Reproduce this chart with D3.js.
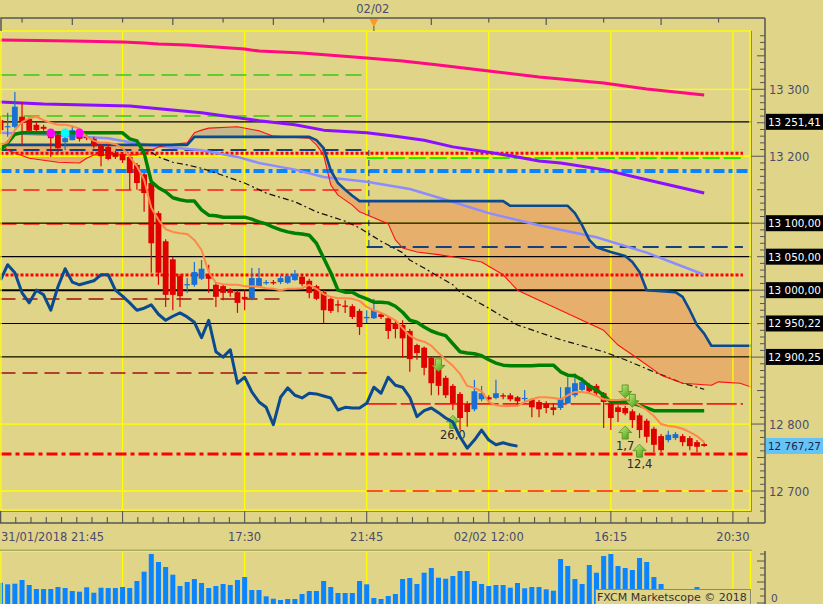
<!DOCTYPE html>
<html>
<head>
<meta charset="utf-8">
<title>Ichimoku 15m</title>
<script src="https://d3js.org/d3.v7.min.js"></script>
<style>
  body { margin: 0; background: #e0d488; }
  svg { display: block; font-family: "DejaVu Sans", Verdana, sans-serif; }
</style>
</head>
<body>
<div id="chart"></div>
<script>
// ---- candles, index 0 = 31/01/2018 21:45, 15 min each ----
var opens = [13254,13244,13244,13259,13256,13247,13244,13235,13232,13221,
  13224,13235,13229,13226,13217,13214,13205,13203,13199,13187,
  13173,13160,13115,13073,13046,13021,13008,13008,13017,13024,
  13008,13006,13000,12997,12990,12988,13006,13011,13012,13012,
  13011,13015,13020,13014,13006,12997,12987,12979,12977,12976,
  12969,12958,12958,12964,12958,12951,12948,12939,12918,12914,
  12899,12881,12869,12857,12845,12831,12822,12837,12840,12839,
  12843,12843,12840,12838,12837,12833,12831,12825,12824,12831,
  12843,12851,12858,12857,12846,12831,12825,12824,12819,12813,
  12805,12793,12782,12776,12779,12782,12779,12773,12770];
var highs = [13260,13265,13296,13281,13259,13251,13247,13238,13235,13232,
  13244,13239,13232,13229,13219,13221,13208,13206,13202,13190,
  13175,13163,13118,13076,13050,13024,13018,13042,13045,13038,
  13012,13009,13003,13000,13000,13033,13033,13015,13015,13021,
  13024,13030,13024,13017,13008,13000,12990,12985,12985,12979,
  12972,12970,12987,12967,12960,12955,12955,12942,12920,12916,
  12900,12884,12872,12860,12848,12834,12866,12857,12843,12866,
  12846,12846,12842,12851,12839,12836,12834,12831,12855,12870,
  12876,12870,12861,12860,12848,12834,12828,12827,12822,12816,
  12808,12796,12785,12790,12788,12785,12782,12776,12772];
var lows = [13233,13229,13242,13217,13235,13235,13238,13199,13206,13209,
  13224,13222,13224,13212,13185,13194,13196,13190,13150,13150,
  13117,13026,13008,12975,12970,12975,12996,13005,13015,12996,
  12975,12985,12990,12966,12970,12985,13005,13008,13008,13009,
  13009,13014,13006,12988,12985,12951,12966,12967,12966,12957,
  12933,12951,12957,12957,12927,12928,12899,12878,12896,12873,
  12843,12843,12839,12821,12791,12796,12819,12834,12834,12837,
  12837,12834,12828,12833,12810,12810,12816,12813,12821,12830,
  12840,12849,12846,12843,12794,12791,12803,12813,12794,12779,
  12772,12758,12758,12773,12776,12767,12761,12758,12766];
var closes = [13239,13245,13274,13250,13238,13239,13241,13227,13212,13227,
  13239,13226,13227,13215,13200,13196,13199,13194,13175,13160,
  13145,13070,13026,12993,12993,12991,13009,13027,13032,13017,
  12990,12996,12996,12981,12987,13018,13018,13012,13011,13018,
  13021,13024,13009,12996,12987,12970,12969,12977,12975,12960,
  12945,12960,12970,12960,12939,12942,12928,12897,12906,12884,
  12861,12857,12843,12831,12809,12818,12849,12846,12837,12846,
  12841,12837,12834,12839,12825,12822,12824,12821,12839,12855,
  12861,12863,12849,12846,12833,12809,12818,12816,12806,12791,
  12781,12769,12761,12784,12785,12773,12767,12766,12767.27];
var volumes = [213,197,203,240,190,150,150,150,170,160,
  130,123,167,113,163,160,160,170,160,230,
  323,500,420,370,293,180,220,250,210,160,
  180,200,190,240,270,140,140,77,53,40,
  50,50,100,130,130,230,170,110,110,110,
  230,197,60,50,80,100,250,260,200,313,
  360,263,253,280,330,330,230,200,180,190,
  190,163,210,157,170,170,147,133,450,380,
  250,200,390,313,480,500,380,360,340,460,
  420,270,200,120,100,90,80,170,60];

// ---- ichimoku ----
var tenkan = [13217,13221,13239,13251,13257,13259,13254,13250,13247,13247,
  13245,13241,13229,13223,13220,13220,13218,13212,13199,13185,
  13165,13123,13105,13091,13087,13085,13084,13075,13060,13027,
  13011,13009,13008,13008,13006,13006,13005,13003,13002,13000,
  13002,13002,13003,13008,13002,12994,12990,12988,12988,12987,
  12984,12975,12970,12966,12961,12955,12943,12932,12926,12923,
  12917,12906,12896,12887,12875,12857,12854,12849,12833,12828,
  12827,12827,12827,12833,12837,12840,12840,12839,12837,12843,
  12848,12848,12846,12842,12837,12836,12836,12837,12834,12828,
  12821,12812,12800,12797,12796,12793,12788,12782,12773];
var kijun = [13209,13220,13233,13235,13235,13235,13235,13235,13235,13235,
  13235,13235,13235,13235,13235,13235,13235,13235,13226,13223,
  13205,13162,13153,13147,13138,13135,13133,13133,13120,13112,
  13111,13109,13109,13109,13109,13106,13102,13099,13094,13090,
  13087,13085,13084,13082,13070,13048,13026,13000,12997,12997,
  12991,12987,12982,12982,12981,12976,12967,12955,12952,12945,
  12939,12935,12932,12920,12908,12906,12905,12902,12896,12891,
  12888,12887,12887,12887,12887,12888,12888,12888,12878,12873,
  12872,12866,12857,12851,12843,12833,12833,12833,12831,12828,
  12824,12820,12820,12820,12820,12820,12820,12820,12820];
var chikou = [13015,13038,13026,12996,12981,13000,12993,12970,13005,13032,
  13012,13008,13011,13014,13023,13023,13000,12991,12981,12970,
  12973,12978,12964,12955,12961,12966,12960,12952,12929,12955,
  12908,12900,12911,12861,12870,12848,12833,12825,12799,12840,
  12854,12843,12839,12846,12845,12842,12839,12821,12825,12824,
  12824,12831,12855,12846,12870,12858,12855,12840,12811,12820,
  12824,12817,12809,12803,12781,12764,12776,12791,12776,12769,
  12772,12769,12767];
var spanA = [[0,13220],[1,13209],[4,13197],[8,13191],[11,13190],[12,13197],[13,13202],
  [19,13202],[21,13209],[22,13214],[24,13218],[26,13220],[27,13235],[28,13239],[29,13242],
  [33,13244],[36,13238],[38,13230],[43,13227],[44,13217],[45,13202],[46,13157],[47,13142],
  [49,13127],[50,13117],[52,13108],[54,13099],[55,13075],[56,13063],[58,13057],[61,13053],
  [64,13048],[67,13042],[70,13023],[72,13000],[75,12985],[78,12970],[81,12955],[84,12940],
  [86,12918],[89,12896],[92,12873],[95,12861],[99,12858],[100,12863],[103,12861],[104.6,12855]];
var spanB = [[0,13217],[26,13217],[27,13229],[43,13229],[44,13224],[45,13212],[46,13179],
  [47,13160],[48,13150],[49,13141],[50,13133],[70,13133],[71,13126],[79,13126],[80,13115],
  [81,13097],[82,13075],[83,13064],[85,13057],[87,13051],[88,13042],[89,13027],[90,13000],
  [94,12997],[95,12990],[96,12970],[97,12948],[98,12935],[99,12917],[104.6,12917]];

// ---- moving averages ----
var maSlow = [[0,13373.6],[10,13372.1],[17,13370.6],[20,13369.1],[22,13367.6],[26,13366.1],
  [28,13364.6],[30,13363.1],[32,13361.6],[34,13360.1],[36,13357.1],[42,13354.1],[51,13346.7],
  [56,13342.2],[61,13336.2],[68,13327.3],[75,13318.3],[84,13309.4],[90,13300.4],[98,13291.4]];
var maMid = [[0,13281],[6,13278],[18,13275],[28,13265],[36,13253],[41,13247],[45,13239],
  [51,13235],[55,13230],[59,13224],[63,13214],[68,13206],[72,13199],[75,13193],[78,13190],
  [84,13180],[90,13165],[98,13145]];
var maFast = [[0,13235],[6,13232],[11,13229],[15,13227],[18,13221],[22,13215],[28,13209],
  [33,13199],[36,13190],[41,13180],[45,13169],[51,13162],[57,13151],[62,13135],[68,13115],
  [75,13097],[83,13079],[90,13056],[98,13023]];
var maDash = [[21,13206],[22,13199],[24,13191],[26,13187],[28,13182],[30,13175],[34,13160],
  [37,13145],[41,13132],[44,13117],[48,13103],[50,13093],[53,13073],[56,13056],[57,13045],
  [59,13033],[63,13008],[64,12997],[66,12985],[68,12973],[70,12960],[72,12948],[78,12926],
  [84,12908],[87,12896],[91,12878],[95,12861],[98,12852]];

// ---- horizontal levels ----
var levelPrice = [13321.4,13260.1,13209.2,13149.6,13098.8,12986.8,12876.3,
  13197.4,13064.5,12830.0,12700.0, 13204.4,13178.0,13022.6,12755.3];
var levelFrom = [0,0,0,0,0,0,0, 51,51,51,51, 0,0,0,0];
var levelTo = [51,51,51,51,51,39,51, 103.4,103.4,103.4,103.4, 103.4,104.6,103.4,104.6];
var levelKind = ["green","green","navy","red","red","darkred","darkred",
  "lime","navy","redlong","red", "reddot","bluedot","reddot","reddashdot"];
var levelShiftIdx = 51.3;
var boxLevels = [13251.41, 13100.00, 13050.00, 13000.00, 12950.22, 12900.25];
var lastPrice = 12767.27;

// ---- markers and signals ----
var dotIdx = [7, 9, 11], dotPrice = [13235, 13235, 13235], dotKind = ["m", "c", "m"];
var upIdx = [63, 87, 89], upPrice = [12813, 12797, 12770], upText = ["26,0", "1,7", "12,4"];
var downIdx = [61, 87, 88], downPrice = [12878, 12839, 12825];

// ---- axes ----
var priceGrid = [12700, 12800, 12900, 13000, 13100, 13200, 13300];
var gridIdx = [17, 34, 51, 68, 85, 102];
var xLabelIdx = [0, 34, 51, 68, 85, 102];
var xLabelText = ["31/01/2018 21:45", "17:30", "21:45", "02/02 12:00", "16:15", "20:30"];
var topTickIdx = [3, 10, 17, 24, 31, 38, 45, 60, 68, 76, 84, 92, 100];
var dayMarkIdx = 52, dayMarkText = "02/02";

// ================= drawing =================
var W = 823, H = 604;
var P = {l: 0, r: 751, t: 31, b: 511};
var V = {t: 551, b: 604};
var axisX = 765;
var bg = "#e0d488", txt = "#4b4b6b";

var x = d3.scaleLinear().domain([0, 102]).range([0.5, 732.9]);
var y = d3.scaleLinear().domain([12700, 13300]).range([491, 89.3]);
var yv = d3.scaleLinear().domain([0, 530]).range([V.b, V.t]);

var loc = d3.formatLocale({decimal: ",", thousands: " ", grouping: [3], currency: ["", ""]});
var fmt0 = loc.format(",.0f"), fmt2 = loc.format(",.2f");

var svg = d3.select("#chart").append("svg").attr("width", W).attr("height", H);
var defs = svg.append("defs");
defs.append("clipPath").attr("id", "clipP").append("rect")
  .attr("x", P.l).attr("y", P.t).attr("width", P.r - P.l).attr("height", P.b - P.t);
defs.append("clipPath").attr("id", "clipV").append("rect")
  .attr("x", P.l).attr("y", V.t).attr("width", P.r - P.l).attr("height", V.b - V.t);

var grad = defs.append("linearGradient").attr("id", "arrowGrad")
  .attr("x1", "0").attr("y1", "0").attr("x2", "1").attr("y2", "1");
grad.append("stop").attr("offset", "0").attr("stop-color", "#c8f27c");
grad.append("stop").attr("offset", "1").attr("stop-color", "#3f9810");

svg.append("rect").attr("width", W).attr("height", H).attr("fill", bg);

var pxLine = d3.line().x(function(d){ return x(d[0]); }).y(function(d){ return y(d[1]); });
var idxLine = d3.line().x(function(d, i){ return x(i); }).y(function(d){ return y(d); });

// cloud: two colours depending on which span is on top
var bFirst = spanB[0], bLast = spanB[spanB.length - 1];
var cloudPath = pxLine(spanA.concat(spanB.slice().reverse())) + "Z";
defs.append("clipPath").attr("id", "cloudBelow").append("path")
  .attr("d", pxLine(spanB) + "L" + x(bLast[0]) + "," + P.b + "L" + x(bFirst[0]) + "," + P.b + "Z");
defs.append("clipPath").attr("id", "cloudAbove").append("path")
  .attr("d", pxLine(spanB) + "L" + x(bLast[0]) + "," + P.t + "L" + x(bFirst[0]) + "," + P.t + "Z");

var pane = svg.append("g").attr("clip-path", "url(#clipP)");
pane.append("path").attr("d", cloudPath).attr("fill", "#e6b06c").attr("clip-path", "url(#cloudBelow)");
pane.append("path").attr("d", cloudPath).attr("fill", "#c4b98c").attr("clip-path", "url(#cloudAbove)");

// grid
pane.selectAll(".gy").data(priceGrid).join("line")
  .attr("x1", P.l).attr("x2", P.r).attr("y1", function(d){ return y(d); }).attr("y2", function(d){ return y(d); })
  .attr("stroke", "#ffff00").attr("stroke-width", 1.3);
pane.selectAll(".gx").data(gridIdx).join("line")
  .attr("x1", function(d){ return x(d); }).attr("x2", function(d){ return x(d); })
  .attr("y1", P.t).attr("y2", P.b).attr("stroke", "#ffff00").attr("stroke-width", 1.3);

// levels
var levelStyle = {
  green:      {c: "#33cc11", w: 1.5, d: "16,7"},
  lime:       {c: "#33e000", w: 2,   d: "17,4"},
  navy:       {c: "#17407e", w: 2,   d: "16,7"},
  red:        {c: "#ff1a1a", w: 1.5, d: "16,7"},
  darkred:    {c: "#a01010", w: 1.5, d: "15,7"},
  redlong:    {c: "#ff1a1a", w: 1.8, d: "30,4"},
  reddot:     {c: "#ff0000", w: 3,   d: "3,2"},
  bluedot:    {c: "#0a84ff", w: 4,   d: "11,4,4,4"},
  reddashdot: {c: "#ff0000", w: 3,   d: "11,4,4,4"}
};
pane.selectAll(".lvl").data(levelPrice).join("line")
  .attr("x1", function(d, i){ return x(levelFrom[i]); })
  .attr("x2", function(d, i){ return x(levelTo[i]); })
  .attr("y1", function(d){ return y(d); }).attr("y2", function(d){ return y(d); })
  .attr("stroke", function(d, i){ return levelStyle[levelKind[i]].c; })
  .attr("stroke-width", function(d, i){ return levelStyle[levelKind[i]].w; })
  .attr("stroke-dasharray", function(d, i){ return levelStyle[levelKind[i]].d; });
pane.append("line")
  .attr("x1", x(levelShiftIdx)).attr("x2", x(levelShiftIdx))
  .attr("y1", y(levelPrice[2])).attr("y2", y(levelPrice[8]))
  .attr("stroke", "#17407e").attr("stroke-width", 1).attr("stroke-dasharray", "6,4");

pane.selectAll(".blk").data(boxLevels).join("line")
  .attr("x1", P.l).attr("x2", P.r)
  .attr("y1", function(d){ return y(d); }).attr("y2", function(d){ return y(d); })
  .attr("stroke", "#000").attr("stroke-width", function(d){ return d === 13000 ? 2 : 1.2; });

// moving averages
function drawLine(data, color, width, dash) {
  var p = pane.append("path").attr("d", pxLine(data)).attr("fill", "none")
    .attr("stroke", color).attr("stroke-width", width).attr("stroke-linejoin", "round");
  if (dash) p.attr("stroke-dasharray", dash);
  return p;
}
drawLine(maSlow, "#ff0a80", 3);
drawLine(maMid, "#8a10ff", 3);
drawLine(maFast, "#8c8cff", 2.5);
drawLine(maDash, "#111", 1.2, "6,3,2,3");
drawLine(spanA, "#ff1010", 1.1);
drawLine(spanB, "#0b4a8f", 2.6);

// candles
var cw = 5.8;
var candles = pane.selectAll(".c").data(closes).join("g")
  .attr("fill", function(d, i){ return d >= opens[i] ? "#1a6fd4" : "#e00000"; })
  .attr("stroke", function(d, i){ return d >= opens[i] ? "#1a6fd4" : "#e00000"; });
candles.append("line")
  .attr("x1", function(d, i){ return x(i); }).attr("x2", function(d, i){ return x(i); })
  .attr("y1", function(d, i){ return y(highs[i]); }).attr("y2", function(d, i){ return y(lows[i]); })
  .attr("stroke-width", 1.2);
candles.append("rect")
  .attr("x", function(d, i){ return x(i) - cw / 2; }).attr("width", cw)
  .attr("y", function(d, i){ return y(Math.max(d, opens[i])); })
  .attr("height", function(d, i){ return Math.max(1.2, Math.abs(y(d) - y(opens[i]))); })
  .attr("stroke", "none");

// kijun / tenkan
pane.append("path").attr("d", idxLine(kijun)).attr("fill", "none")
  .attr("stroke", "#008000").attr("stroke-width", 3.5).attr("stroke-linejoin", "round");
pane.append("path").attr("d", idxLine(tenkan)).attr("fill", "none")
  .attr("stroke", "#ff8848").attr("stroke-width", 2).attr("stroke-linejoin", "round");

// markers
pane.selectAll(".dot").data(dotIdx).join("circle")
  .attr("cx", function(d){ return x(d); }).attr("cy", function(d, i){ return y(dotPrice[i]); })
  .attr("r", 4.4).attr("fill", function(d, i){ return dotKind[i] === "m" ? "#ff00ff" : "#00ffff"; });

// arrow glyph
function arrowPath(cx, tipY, dir) {
  var pts = [[0,0],[6.5,6.5],[3,6.5],[3,13],[-3,13],[-3,6.5],[-6.5,6.5]];
  return "M" + pts.map(function(p){ return (cx + p[0]) + "," + (tipY + dir * p[1]); }).join("L") + "Z";
}
pane.selectAll(".up").data(upIdx).join("path")
  .attr("d", function(d, i){ return arrowPath(x(d), y(upPrice[i]), 1); })
  .attr("fill", "url(#arrowGrad)").attr("stroke", "#4e8e18").attr("stroke-width", 0.8);
pane.selectAll(".dn").data(downIdx).join("path")
  .attr("d", function(d, i){ return arrowPath(x(d), y(downPrice[i]), -1); })
  .attr("fill", "url(#arrowGrad)").attr("stroke", "#4e8e18").attr("stroke-width", 0.8);
pane.selectAll(".upt").data(upIdx).join("text")
  .attr("x", function(d){ return x(d); }).attr("y", function(d, i){ return y(upPrice[i]) + 24; })
  .attr("text-anchor", "middle").attr("font-size", 11.5).attr("fill", "#2a2a2a")
  .text(function(d, i){ return upText[i]; });

// chikou
pane.append("path").attr("d", idxLine(chikou)).attr("fill", "none")
  .attr("stroke", "#0b4a8f").attr("stroke-width", 3).attr("stroke-linejoin", "round");

// frame of the price pane
svg.append("rect").attr("x", 1).attr("y", P.t).attr("width", P.r - 2).attr("height", P.b - P.t - 1)
  .attr("fill", "none").attr("stroke", "#ffff00").attr("stroke-width", 1.3);
svg.append("path").attr("d", "M" + (P.r + 0.5) + "," + P.t + "V" + (P.b + 0.5) + "H0")
  .attr("fill", "none").attr("stroke", "#8a8a70").attr("stroke-width", 1);

// right price axis
svg.append("line").attr("x1", axisX).attr("x2", axisX).attr("y1", 18).attr("y2", 523)
  .attr("stroke", "#555").attr("stroke-width", 1.5);
var rTicks = d3.range(12670, 13390, 10);
svg.selectAll(".rt").data(rTicks).join("line")
  .attr("x1", function(d){ return d % 100 === 0 ? P.r : (d % 50 === 0 ? axisX - 8 : axisX - 5); })
  .attr("x2", axisX)
  .attr("y1", function(d){ return y(d); }).attr("y2", function(d){ return y(d); })
  .attr("stroke", "#555").attr("stroke-width", 1);

// plain grid labels only where no boxed level label sits on top of them
var freeGrid = priceGrid.filter(function(v){
  return boxLevels.every(function(b){ return Math.abs(y(b) - y(v)) > 14; });
});
svg.selectAll(".rl").data(freeGrid).join("text")
  .attr("x", 769).attr("y", function(d){ return y(d) + 4.5; })
  .attr("font-size", 11.5).attr("fill", txt).text(function(d){ return fmt0(d); });
var boxes = svg.selectAll(".bx").data(boxLevels).join("g");
boxes.append("rect").attr("x", 766).attr("y", function(d){ return y(d) - 8; })
  .attr("width", W - 766).attr("height", 16).attr("fill", "#000");
boxes.append("text").attr("x", 768).attr("y", function(d){ return y(d) + 4; })
  .attr("font-size", 10.4).attr("fill", "#fff").text(function(d){ return fmt2(d); });
svg.append("rect").attr("x", 766).attr("y", y(lastPrice) - 8).attr("width", W - 766).attr("height", 16)
  .attr("fill", "#62c4f7");
svg.append("text").attr("x", 768).attr("y", y(lastPrice) + 4)
  .attr("font-size", 10.4).attr("fill", "#222244").text(fmt2(lastPrice));

// top time axis
svg.append("path").attr("d", "M1,31V18H" + axisX).attr("fill", "none")
  .attr("stroke", "#555").attr("stroke-width", 1.5);
svg.selectAll(".tt").data(topTickIdx).join("line")
  .attr("x1", function(d){ return x(d); }).attr("x2", function(d){ return x(d); })
  .attr("y1", 18).attr("y2", function(d, i){ return i % 2 ? 25 : 22.5; })
  .attr("stroke", "#555").attr("stroke-width", 1.2);
svg.append("path")
  .attr("d", "M" + (x(dayMarkIdx) - 4.5) + ",19L" + (x(dayMarkIdx) + 4.5) + ",19L" + x(dayMarkIdx) + ",27Z")
  .attr("fill", "#ff9a1a");
svg.append("line").attr("x1", x(dayMarkIdx)).attr("x2", x(dayMarkIdx)).attr("y1", 26).attr("y2", 31)
  .attr("stroke", "#555");
svg.append("text").attr("x", x(dayMarkIdx) - 1).attr("y", 13).attr("text-anchor", "middle")
  .attr("font-size", 11.5).attr("fill", txt).text(dayMarkText);

// bottom time axis
svg.append("path").attr("d", "M0.5," + P.b + "V523H" + axisX).attr("fill", "none")
  .attr("stroke", "#555").attr("stroke-width", 1.5);
var minorTicks = d3.range(0, 106, 17 / 8);
svg.selectAll(".bt").data(minorTicks).join("line")
  .attr("x1", function(d){ return x(d); }).attr("x2", function(d){ return x(d); })
  .attr("y1", function(d, i){ return i % 8 === 0 ? P.b : 517; }).attr("y2", 523)
  .attr("stroke", "#555").attr("stroke-width", 1.1);
svg.selectAll(".bl").data(xLabelIdx).join("text")
  .attr("x", function(d, i){ return i === 0 ? 1 : x(d); })
  .attr("y", 541)
  .attr("text-anchor", function(d, i){ return i === 0 ? "start" : "middle"; })
  .attr("font-size", 11.5).attr("fill", txt)
  .text(function(d, i){ return xLabelText[i]; });

// volume pane
var vol = svg.append("g").attr("clip-path", "url(#clipV)");
vol.selectAll(".vg").data(gridIdx).join("line")
  .attr("x1", function(d){ return x(d); }).attr("x2", function(d){ return x(d); })
  .attr("y1", V.t).attr("y2", V.b).attr("stroke", "#ffff00").attr("stroke-width", 1.3);
vol.selectAll(".vb").data(volumes).join("rect")
  .attr("x", function(d, i){ return x(i) - 2.5; }).attr("width", 5)
  .attr("y", function(d){ return yv(d); }).attr("height", function(d){ return yv(0) - yv(d); })
  .attr("fill", "#0a84ff");
svg.append("path").attr("d", "M1," + (V.b + 2) + "V" + V.t + "H" + (P.r - 0.5) + "V" + (V.b + 2))
  .attr("fill", "none").attr("stroke", "#ffff00").attr("stroke-width", 1.3);
svg.append("line").attr("x1", 0).attr("x2", P.r + 0.5).attr("y1", V.t - 0.8).attr("y2", V.t - 0.8)
  .attr("stroke", "#8a8a70").attr("stroke-width", 1);
svg.append("line").attr("x1", axisX).attr("x2", axisX).attr("y1", V.t).attr("y2", V.b)
  .attr("stroke", "#555").attr("stroke-width", 1.5);
var vTicks = d3.range(0, 530, 70);
svg.selectAll(".vt").data(vTicks).join("line")
  .attr("x1", function(d, i){ return i % 3 === 0 ? axisX - 8 : axisX - 5; }).attr("x2", axisX)
  .attr("y1", function(d){ return yv(d) - 1; }).attr("y2", function(d){ return yv(d) - 1; })
  .attr("stroke", "#555");
svg.append("text").attr("x", 771).attr("y", 602).attr("font-size", 10.5).attr("fill", txt).text("0");

// watermark
svg.append("rect").attr("x", 595.5).attr("y", 589.5).attr("width", 155).attr("height", 20)
  .attr("fill", bg).attr("stroke", "#8a8a70");
svg.append("text").attr("x", 597).attr("y", 601).attr("font-size", 11).attr("fill", "#333")
  .text("FXCM Marketscope \u00a9 2018");
</script>
</body>
</html>
